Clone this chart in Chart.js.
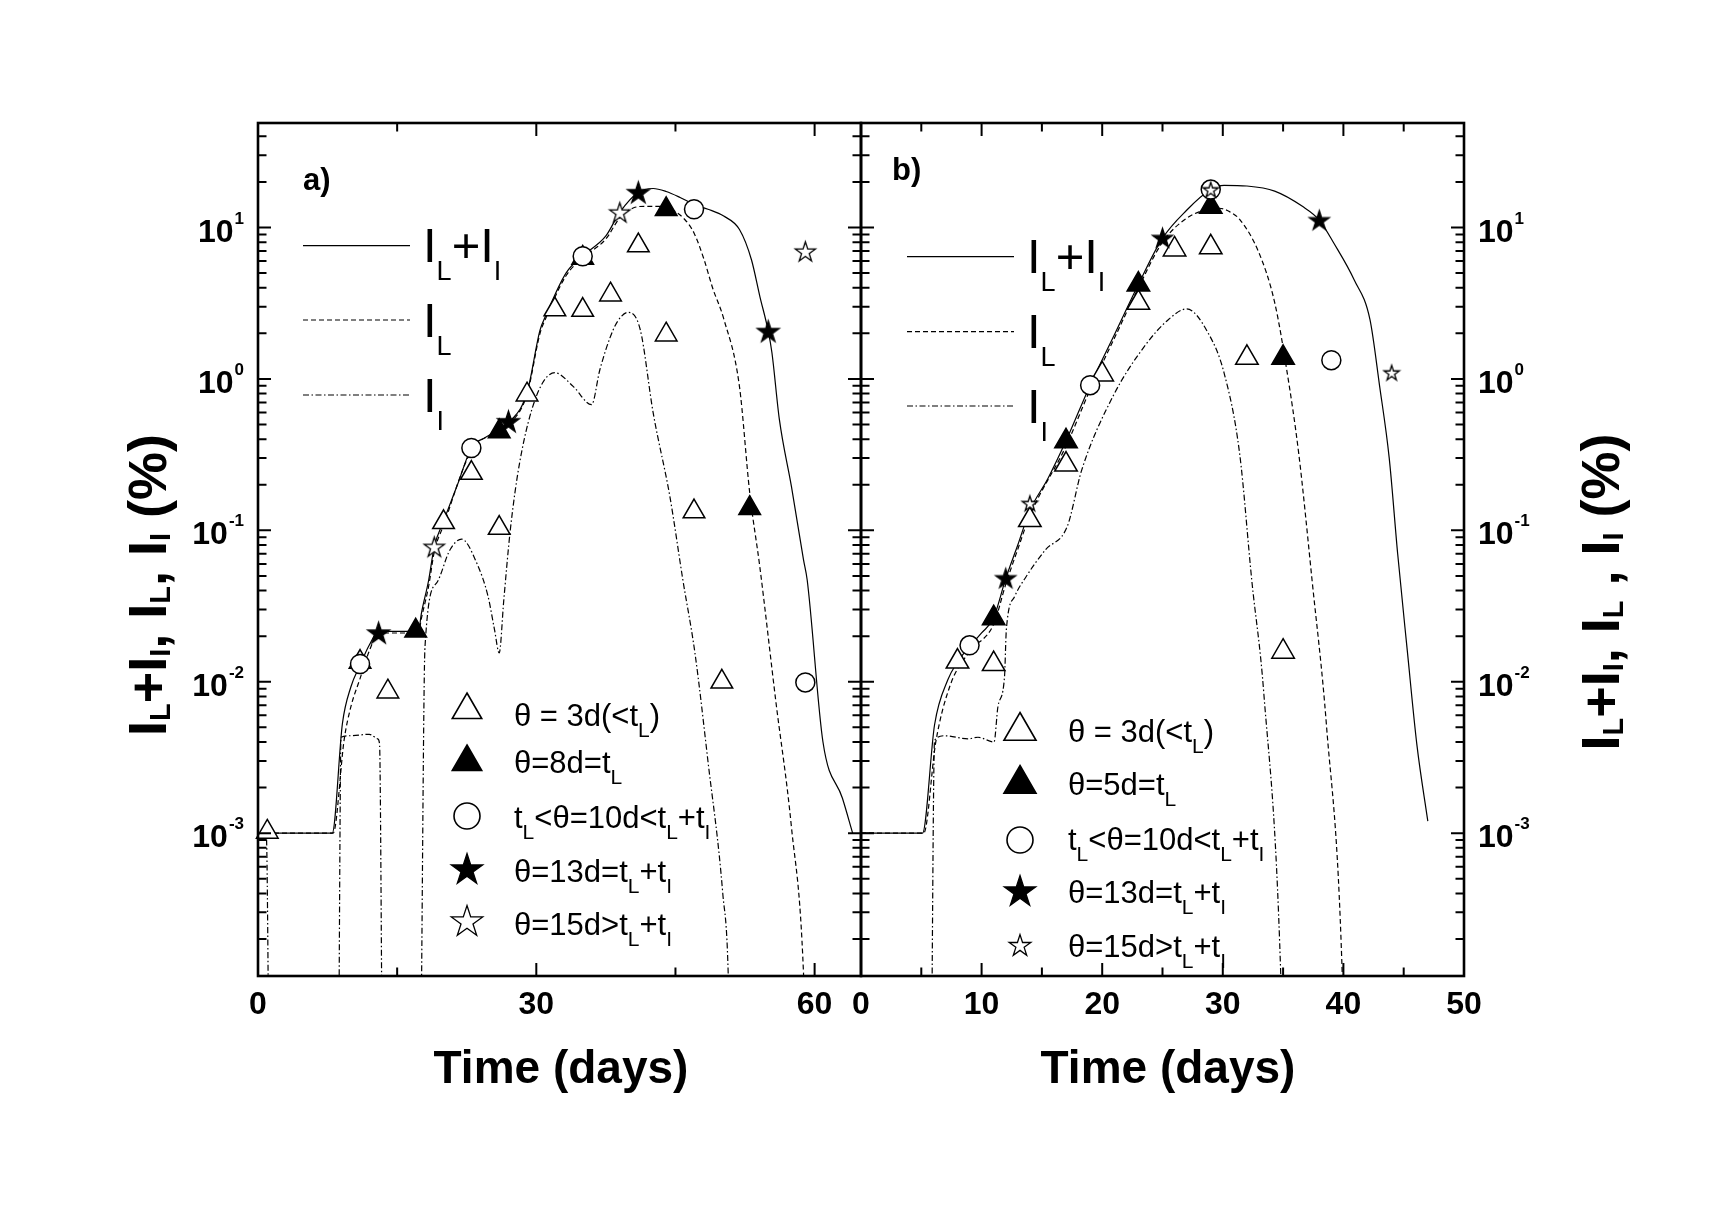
<!DOCTYPE html>
<html>
<head>
<meta charset="utf-8">
<script src="https://cdn.jsdelivr.net/npm/chart.js@4.4.1/dist/chart.umd.min.js"></script>
<style>
  html, body { margin: 0; padding: 0; background: #fff; }
  #wrap { position: relative; width: 1725px; height: 1221px; }
  canvas { position: absolute; left: 0; top: 0; }
</style>
</head>
<body>
<div id="wrap">
  <canvas id="cA" width="1725" height="1221"></canvas>
  <canvas id="cB" width="1725" height="1221"></canvas>
</div>
<script>
// ---------------- DATOS PANEL a) ----------------
const aTimeSum = [0, 8.0, 9.1, 10, 11, 12, 13, 17.3, 17.6, 18.4, 19, 20, 21.5, 23, 24.5, 26, 27.2, 29, 30.4, 31, 33.2, 35, 37.5, 39, 41, 42.6, 44, 45.5, 47, 48.5, 50.2, 51.9, 53.2, 54.1, 55, 55.4, 56.2, 57.5, 58.8, 59.2, 60.9, 63, 64.1];
const aSum = [0.001, 0.001, 0.0053, 0.0092, 0.0129, 0.0175, 0.0215, 0.0215, 0.028, 0.047, 0.078, 0.115, 0.2, 0.35, 0.41, 0.463, 0.525, 0.81, 2.1, 2.6, 5.0, 6.5, 8.8, 12.6, 17.1, 18.1, 17.3, 15.8, 14.2, 13.2, 11.9, 9.7, 6.1, 3.5, 2.07, 1.49, 0.54, 0.195, 0.064, 0.047, 0.004, 0.0017, 0.001];

const aTimeL = [0, 8.1, 9.3, 10, 11, 12, 13, 17.3, 17.6, 18.4, 19, 20, 23, 26, 27.2, 29, 30.4, 31, 33.2, 35, 37.5, 39, 40.5, 41.7, 43, 44.5, 46, 47, 48.1, 49, 50.2, 51.9, 53, 54.1, 55.8, 57.5, 58.8, 59.3];
const aL = [0.001, 0.001, 0.0042, 0.0068, 0.0105, 0.016, 0.021, 0.021, 0.026, 0.043, 0.072, 0.108, 0.335, 0.45, 0.51, 0.79, 2.0, 2.5, 4.8, 6.3, 8.4, 11.6, 13.5, 13.8, 13.8, 13.2, 11.3, 9.2, 6.1, 4.0, 2.5, 0.89, 0.178, 0.057, 0.0076, 0.0011, 0.00012, 0.00001];

const aTimeI = [0, 0.9, 1.3, 8.6, 8.95, 10, 12, 12.9, 13.1, 13.5, 17.4, 18.0, 19.26, 20.7, 21.95, 23.57, 24.8, 25.5, 26.0, 26.5, 27.2, 28.2, 30.0, 32.0, 34.0, 35.96, 36.85, 38.3, 39.2, 39.9, 41.2, 42.6, 44.4, 45.8, 47.1, 48.5, 50.1, 50.7, 51];
const aI = [0.001, 0.00095, 0.00001, 0.00001, 0.0043, 0.0044, 0.0045, 0.0042, 0.0039, 0.00001, 0.00001, 0.017, 0.045, 0.0745, 0.0875, 0.061, 0.0366, 0.022, 0.0155, 0.035, 0.101, 0.279, 0.767, 1.1, 0.89, 0.676, 1.15, 2.12, 2.6, 2.75, 2.12, 0.596, 0.167, 0.047, 0.0155, 0.003, 0.0004, 0.00011, 0.00001];

// marcas: dia y valor
const aTri3Day = [1, 11, 14, 20, 23, 26, 29, 32, 35, 38, 41, 44, 47, 50];
const aTri3Val = [0.00102, 0.0135, 0.0086, 0.113, 0.239, 0.1036, 0.787, 2.87, 2.85, 3.6, 7.6, 1.96, 0.133, 0.01];
const aTriDay = [17, 26, 35, 44, 53];
const aTriVal = [0.0217, 0.45, 6.3, 13.2, 0.14];
const aCircDay = [11, 23, 35, 47, 59];
const aCircVal = [0.0131, 0.35, 6.46, 13.2, 0.0099];
const aStarDay = [13, 27, 41, 55];
const aStarVal = [0.0211, 0.525, 17.1, 2.07];
const aOStarDay = [19, 39, 59];
const aOStarVal = [0.078, 12.6, 6.96];

// ---------------- DATOS PANEL b) ----------------
const bTimeSum = [0, 5.1, 6.1, 7.2, 8, 9, 10, 11, 12, 13, 14, 15.5, 17, 19, 21, 23, 25, 27, 29, 30.1, 32, 34.3, 36.6, 38, 39.2, 40.9, 42.2, 43.0, 43.8, 44.5, 45.3, 46.1, 47];
const bSum = [0.001, 0.001, 0.0052, 0.0103, 0.0135, 0.0171, 0.021, 0.0265, 0.048, 0.08, 0.135, 0.22, 0.39, 0.91, 1.95, 4.2, 8.5, 13, 17.8, 19, 18.8, 17.4, 13.8, 11.2, 7.9, 4.5, 2.47, 0.9, 0.3, 0.07, 0.016, 0.0038, 0.0012];

const bTimeL = [0, 5.2, 6.2, 7.4, 9, 11, 12, 13, 14, 17, 19, 21, 23, 25, 27, 29, 29.7, 30.5, 31.4, 33, 34.3, 35.3, 36.3, 37.4, 38.6, 39.9, 40.2];
const bL = [0.001, 0.001, 0.004, 0.0095, 0.0158, 0.024, 0.044, 0.075, 0.125, 0.36, 0.85, 1.85, 4.0, 8.0, 11.5, 13.3, 13.4, 12.8, 11.3, 6.8, 3.2, 1.15, 0.32, 0.047, 0.0051, 0.00012, 0.00001];

const bTimeI = [5.8, 6.1, 6.94, 8.87, 9.7, 11.03, 11.36, 11.9, 12.05, 12.74, 13.7, 15.3, 17.1, 18.3, 20.9, 23.5, 25.5, 27.0, 28.8, 30.1, 31.4, 32.4, 33.4, 34.8, 35.1];
const bI = [0.00001, 0.0041, 0.0044, 0.0042, 0.0043, 0.004, 0.0069, 0.0108, 0.022, 0.0366, 0.0496, 0.0745, 0.106, 0.25, 0.77, 1.64, 2.47, 2.9, 2.0, 1.1, 0.32, 0.047, 0.0084, 0.00012, 0.00001];

const bTri3Day = [8, 11, 14, 17, 20, 23, 26, 29, 32, 35];
const bTri3Val = [0.0136, 0.0131, 0.117, 0.272, 1.07, 3.18, 7.16, 7.4, 1.38, 0.0158];
const bTriDay = [11, 17, 23, 29, 35];
const bTriVal = [0.0263, 0.387, 4.2, 13.7, 1.38];
const bCircDay = [9, 19, 29, 39];
const bCircVal = [0.0174, 0.91, 17.8, 1.33];
const bStarDay = [12, 25, 38];
const bStarVal = [0.0484, 8.55, 11.2];
const bOStarDay = [14, 29, 44];
const bOStarVal = [0.151, 17.8, 1.1];

// ---------------- TEXTOS ----------------
const curvas = ["I_L+I_I", "I_L", "I_I"];
const leyendaA = ["θ = 3d(<t_L)", "θ=8d=t_L", "t_L<θ=10d<t_L+t_I", "θ=13d=t_L+t_I", "θ=15d>t_L+t_I"];
const leyendaB = ["θ = 3d(<t_L)", "θ=5d=t_L", "t_L<θ=10d<t_L+t_I", "θ=13d=t_L+t_I", "θ=15d>t_L+t_I"];
const tituloYIzq = "I_L+I_I, I_L, I_I (%)";
const tituloYDer = "I_L+I_I, I_L , I_I (%)";
const tituloX = "Time (days)";
const potenciasY = [1, 0, -1, -2, -3];
const ticksXA = [0, 30, 60];
const ticksXB = [0, 10, 20, 30, 40, 50];

const Y_MIN = 1.14e-4, Y_MAX = 49;
const FUENTE = '"Liberation Sans", Arial, Helvetica, sans-serif';

// ---------------- MARCAS ----------------
function estrella(R, relleno) {
  const c = document.createElement("canvas");
  const s = Math.ceil(2 * R + 4);
  c.width = s; c.height = s;
  const g = c.getContext("2d");
  trazoEstrella(g, s / 2, s / 2 + R * 0.09, R);
  g.fillStyle = relleno ? "#000" : "#fff";
  g.fill();
  g.lineWidth = 1.3;
  g.strokeStyle = "#000";
  g.stroke();
  return c;
}

function trazoEstrella(g, x, y, R) {
  g.beginPath();
  for (let i = 0; i < 10; i++) {
    const r = i % 2 ? R * 0.382 : R;
    const ang = -Math.PI / 2 + i * Math.PI / 5;
    g.lineTo(x + r * Math.cos(ang), y + r * Math.sin(ang));
  }
  g.closePath();
}

function marcaLeyenda(ctx, tipo, x, y, r) {
  ctx.lineWidth = 1.6;
  if (tipo === "tri" || tipo === "triLleno") {
    ctx.beginPath();
    ctx.moveTo(x, y - r);
    ctx.lineTo(x + r * 0.866, y + r * 0.5);
    ctx.lineTo(x - r * 0.866, y + r * 0.5);
    ctx.closePath();
    ctx.fillStyle = tipo === "tri" ? "#fff" : "#000";
    ctx.fill(); ctx.stroke();
  } else if (tipo === "circ") {
    ctx.beginPath();
    ctx.arc(x, y, r, 0, Math.PI * 2);
    ctx.fillStyle = "#fff";
    ctx.fill(); ctx.stroke();
  } else {
    trazoEstrella(ctx, x, y, r);
    ctx.fillStyle = tipo === "estLlena" ? "#000" : "#fff";
    ctx.fill(); ctx.lineWidth = 1.3; ctx.stroke();
  }
}

// ---------------- TEXTO CON SUBINDICES ----------------
function partes(str) {
  const out = [];
  let buf = "";
  for (let i = 0; i < str.length; i++) {
    if (str[i] === "_") {
      if (buf) out.push({ t: buf, sub: false });
      buf = "";
      out.push({ t: str[i + 1], sub: true });
      i++;
    } else buf += str[i];
  }
  if (buf) out.push({ t: buf, sub: false });
  return out;
}

function textoRico(ctx, str, x, y, st) {
  const ps = partes(str);
  const fuente = s => `${st.peso || "normal"} ${s}px ${FUENTE}`;
  let w = 0;
  ps.forEach(p => {
    ctx.font = fuente(p.sub ? st.sub : st.size);
    p.w = ctx.measureText(p.t).width;
    w += p.w;
  });
  let cx = st.align === "center" ? x - w / 2 : st.align === "right" ? x - w : x;
  ctx.textAlign = "left";
  ctx.textBaseline = "alphabetic";
  ps.forEach(p => {
    ctx.font = fuente(p.sub ? st.sub : st.size);
    ctx.fillText(p.t, cx, y + (p.sub ? st.dy : 0));
    cx += p.w;
  });
}

function potencia(ctx, e, x, y, align) {
  ctx.textBaseline = "alphabetic";
  ctx.textAlign = "left";
  ctx.font = `bold 32px ${FUENTE}`;
  const w1 = ctx.measureText("10").width;
  ctx.font = `bold 17px ${FUENTE}`;
  const exp = String(e).replace("-", "-");
  const w2 = ctx.measureText(exp).width;
  const x0 = align === "right" ? x - w1 - w2 - 1 : x;
  ctx.font = `bold 32px ${FUENTE}`;
  ctx.fillText("10", x0, y + 14);
  ctx.font = `bold 17px ${FUENTE}`;
  ctx.fillText(exp, x0 + w1 + 1, y - 4);
}

// ---------------- PANELES ----------------
const panelA = {
  id: "cA", xMax: 65, paso: 15, mayor: 30, ticks: ticksXA,
  pad: { left: 258, top: 123, right: 864, bottom: 245 },
  letra: { t: "a)", x: 303, y: 190 },
  etiquetasY: "izq", tituloY: { t: tituloYIzq, x: 166, y: 585 },
  tituloX: 561,
  curvas: { x1: 303, x2: 410, lx: 423, ys: [245.7, 320, 395], bs: [261.7, 336.7, 411.7] },
  leyenda: { textos: leyendaA, mx: 467, tx: 514, my: [710, 762, 816, 870, 922], bs: [726, 773, 828, 882, 935], radios: [17, 17, 13, 16.5, 16.5] },
  series: [
    [aOStarDay, aOStarVal, { pointStyle: estrella(10.5, false), pointRadius: 10 }],
    [aCircDay, aCircVal, { pointStyle: "circle", pointRadius: 9.5, pointBackgroundColor: "#fff" }],
    [aStarDay, aStarVal, { pointStyle: estrella(11.4, true), pointRadius: 10 }],
    [aTriDay, aTriVal, { pointStyle: "triangle", pointRadius: 12.5, pointBackgroundColor: "#000" }],
    [aTri3Day, aTri3Val, { pointStyle: "triangle", pointRadius: 12.5, pointBackgroundColor: "#fff" }]
  ],
  lineas: [[aTimeSum, aSum], [aTimeL, aL], [aTimeI, aI]]
};

const panelB = {
  id: "cB", xMax: 50, paso: 5, mayor: 10, ticks: ticksXB,
  pad: { left: 861, top: 123, right: 261, bottom: 245 },
  letra: { t: "b)", x: 892, y: 180 },
  etiquetasY: "der", tituloY: { t: tituloYDer, x: 1619, y: 592 },
  tituloX: 1168,
  curvas: { x1: 907, x2: 1014, lx: 1027, ys: [256.7, 331.7, 406], bs: [273.3, 348.3, 423] },
  leyenda: { textos: leyendaB, mx: 1020, tx: 1068, my: [731, 784, 840, 892, 946], bs: [742, 795, 850, 903, 957], radios: [18.5, 18.5, 13, 16.5, 11.4] },
  series: [
    [bOStarDay, bOStarVal, { pointStyle: estrella(8, false), pointRadius: 8 }],
    [bCircDay, bCircVal, { pointStyle: "circle", pointRadius: 9.5, pointBackgroundColor: "#fff" }],
    [bStarDay, bStarVal, { pointStyle: estrella(10.4, true), pointRadius: 10 }],
    [bTriDay, bTriVal, { pointStyle: "triangle", pointRadius: 13, pointBackgroundColor: "#000" }],
    [bTri3Day, bTri3Val, { pointStyle: "triangle", pointRadius: 13, pointBackgroundColor: "#fff" }]
  ],
  lineas: [[bTimeSum, bSum], [bTimeL, bL], [bTimeI, bI]]
};

const guiones = [[], [5, 3], [6, 2.5, 1.5, 2.5]];
const tiposLeyenda = ["tri", "triLleno", "circ", "estLlena", "est"];

function dibujar(p) {
  return {
    id: "dibujo" + p.id,
    afterDraw(chart) {
      const ctx = chart.ctx, a = chart.chartArea;
      const sx = chart.scales.x, sy = chart.scales.y;
      ctx.save();
      ctx.fillStyle = "#000";
      ctx.strokeStyle = "#000";

      // marcas de los ejes, hacia dentro
      ctx.lineWidth = 2;
      ctx.beginPath();
      for (let e = -4; e <= 1; e++) {
        for (let m = 1; m <= 9; m++) {
          const v = m * Math.pow(10, e);
          if (v < sy.min || v > sy.max) continue;
          const py = sy.getPixelForValue(v);
          const len = m === 1 ? 13 : 8.5;
          ctx.moveTo(a.left, py); ctx.lineTo(a.left + len, py);
          ctx.moveTo(a.right, py); ctx.lineTo(a.right - len, py);
        }
      }
      for (let t = p.paso; t < p.xMax; t += p.paso) {
        const px = sx.getPixelForValue(t);
        const len = t % p.mayor === 0 ? 13 : 8.5;
        ctx.moveTo(px, a.bottom); ctx.lineTo(px, a.bottom - len);
        ctx.moveTo(px, a.top); ctx.lineTo(px, a.top + len);
      }
      ctx.stroke();

      ctx.lineWidth = 2.6;
      ctx.strokeRect(a.left, a.top, a.right - a.left, a.bottom - a.top);

      // etiquetas eje x
      ctx.font = `bold 32px ${FUENTE}`;
      ctx.textAlign = "center";
      ctx.textBaseline = "alphabetic";
      p.ticks.forEach(t => ctx.fillText(String(t), sx.getPixelForValue(t), a.bottom + 38));

      // etiquetas eje y
      potenciasY.forEach(e => {
        const py = sy.getPixelForValue(Math.pow(10, e));
        if (p.etiquetasY === "izq") potencia(ctx, e, a.left - 14, py, "right");
        else potencia(ctx, e, a.right + 14, py, "left");
      });

      // titulos
      ctx.font = `bold 46px ${FUENTE}`;
      ctx.textAlign = "center";
      ctx.fillText(tituloX, p.tituloX, 1083);

      ctx.save();
      ctx.translate(p.tituloY.x, p.tituloY.y);
      ctx.rotate(-Math.PI / 2);
      textoRico(ctx, p.tituloY.t, 0, 0, { size: 54, sub: 29, dy: 4, peso: "bold", align: "center" });
      ctx.restore();

      ctx.font = `bold 31px ${FUENTE}`;
      ctx.textAlign = "left";
      ctx.fillText(p.letra.t, p.letra.x, p.letra.y);

      // leyenda de curvas
      const c = p.curvas;
      ctx.lineWidth = 1.2;
      c.ys.forEach((ly, i) => {
        ctx.setLineDash(guiones[i]);
        ctx.beginPath();
        ctx.moveTo(c.x1, ly); ctx.lineTo(c.x2, ly);
        ctx.stroke();
        ctx.setLineDash([]);
        textoRico(ctx, curvas[i], c.lx, c.bs[i], { size: 49, sub: 27, dy: 18, align: "left" });
      });

      // leyenda de marcas
      const L = p.leyenda;
      L.textos.forEach((txt, i) => {
        marcaLeyenda(ctx, tiposLeyenda[i], L.mx, L.my[i], L.radios[i]);
        ctx.fillStyle = "#000";
        textoRico(ctx, txt, L.tx, L.bs[i], { size: 31, sub: 21, dy: 11, align: "left" });
      });
      ctx.restore();
    }
  };
}

function crearPanel(p) {
  const datasets = [];
  p.series.forEach(s => {
    datasets.push(Object.assign({
      data: s[0].map((d, i) => ({ x: d, y: s[1][i] })),
      showLine: false,
      clip: false,
      pointBorderColor: "#000",
      pointBorderWidth: 1.5
    }, s[2]));
  });
  p.lineas.forEach((l, i) => {
    datasets.push({
      data: l[0].map((d, k) => ({ x: d, y: l[1][k] })),
      showLine: true,
      pointRadius: 0,
      borderColor: "#000",
      borderWidth: 1.2,
      borderDash: guiones[i],
      cubicInterpolationMode: "monotone",
      clip: 0,
      fill: false
    });
  });

  new Chart(document.getElementById(p.id), {
    type: "scatter",
    data: { datasets },
    options: {
      responsive: false,
      animation: false,
      devicePixelRatio: 1,
      events: [],
      layout: { padding: p.pad },
      plugins: { legend: { display: false }, tooltip: { enabled: false } },
      scales: {
        x: { type: "linear", min: 0, max: p.xMax, bounds: "data", display: false },
        y: { type: "logarithmic", min: Y_MIN, max: Y_MAX, bounds: "data", display: false }
      }
    },
    plugins: [dibujar(p)]
  });
}

crearPanel(panelA);
crearPanel(panelB);
</script>
</body>
</html>
